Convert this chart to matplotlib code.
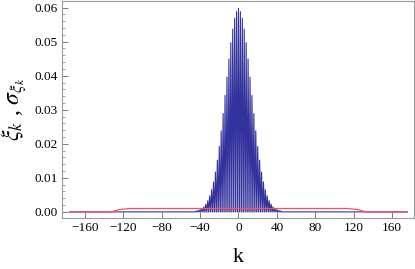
import numpy as np
import matplotlib
matplotlib.use("Agg")
import matplotlib.pyplot as plt
from matplotlib.ticker import MultipleLocator

plt.rcParams['font.family'] = ['Liberation Serif', 'DejaVu Serif']
plt.rcParams['mathtext.fontset'] = 'stix'

# xi_k : nonzero on even k only (odd k are zero)
k_even = [-44, -42, -40, -38, -36, -34, -32, -30, -28, -26, -24, -22, -20, -18, -16, -14, -12, -10, -8, -6, -4, -2,
          0, 2, 4, 6, 8, 10, 12, 14, 16, 18, 20, 22, 24, 26, 28, 30, 32, 34, 36, 38, 40, 42, 44]
xi_even = [0.00025, 0.0004, 0.00065, 0.0010, 0.0015, 0.0023, 0.0033, 0.0047, 0.0065, 0.0088, 0.0117, 0.0152,
           0.0192, 0.0238, 0.0289, 0.0342, 0.0396, 0.0449, 0.0497, 0.0537, 0.0569, 0.0588,
           0.0598,
           0.0588, 0.0569, 0.0537, 0.0497, 0.0449, 0.0396, 0.0342, 0.0289, 0.0238, 0.0192, 0.0152, 0.0117,
           0.0088, 0.0065, 0.0047, 0.0033, 0.0023, 0.0015, 0.0010, 0.00065, 0.0004, 0.00025]
k_min, k_max = -176, 176

# sigma_xi_k
k_sigma = [-176, -133, -124, -113, 113, 124, 133, 176]
sigma = [0.0, 0.0, 0.0007, 0.001, 0.001, 0.0007, 0.0, 0.0]

k_all = np.arange(k_min, k_max + 1)
xi_all = np.zeros(len(k_all))
for kk, v in zip(k_even, xi_even):
    xi_all[kk - k_min] = v

fig = plt.figure(figsize=(4.15, 2.69), dpi=100)
ax = fig.add_axes([0.149, 0.19, 0.849, 0.807])

blue = (0.2, 0.2, 0.62)
ax.fill_between(k_all, 0, xi_all, color=blue, alpha=0.3, lw=0)
ax.plot(k_all, xi_all, color=blue, lw=0.8)
ax.plot(k_sigma, sigma, color=(1.0, 0.3, 0.35), lw=0.9)

ax.set_xlim(-184, 183)
ax.set_ylim(-0.00176, 0.0620)
ax.xaxis.set_major_locator(MultipleLocator(40))
ax.yaxis.set_major_locator(MultipleLocator(0.01))
ax.yaxis.set_minor_locator(MultipleLocator(0.002))
ax.yaxis.set_major_formatter(matplotlib.ticker.FormatStrFormatter('%.2f'))
ax.xaxis.set_major_formatter(matplotlib.ticker.FuncFormatter(
    lambda v, p: ('\u2212%d' % -v) if v < 0 else '%d' % v))

for s in ax.spines.values():
    s.set_color('0.6')
    s.set_linewidth(0.8)
ax.tick_params(direction='in', length=4, width=0.6, color='0.4', labelsize=9.5, pad=3,
               top=False, right=False)
ax.tick_params(which='minor', direction='in', length=2, width=0.5, color='0.5',
               top=False, right=False)

ax.set_xlabel('k', fontsize=16, labelpad=10)
ax.set_ylabel(r'$\xi_k$ , $\sigma_{\xi_k}$', fontsize=17, labelpad=4)

fig.savefig('out.png', dpi=100)
